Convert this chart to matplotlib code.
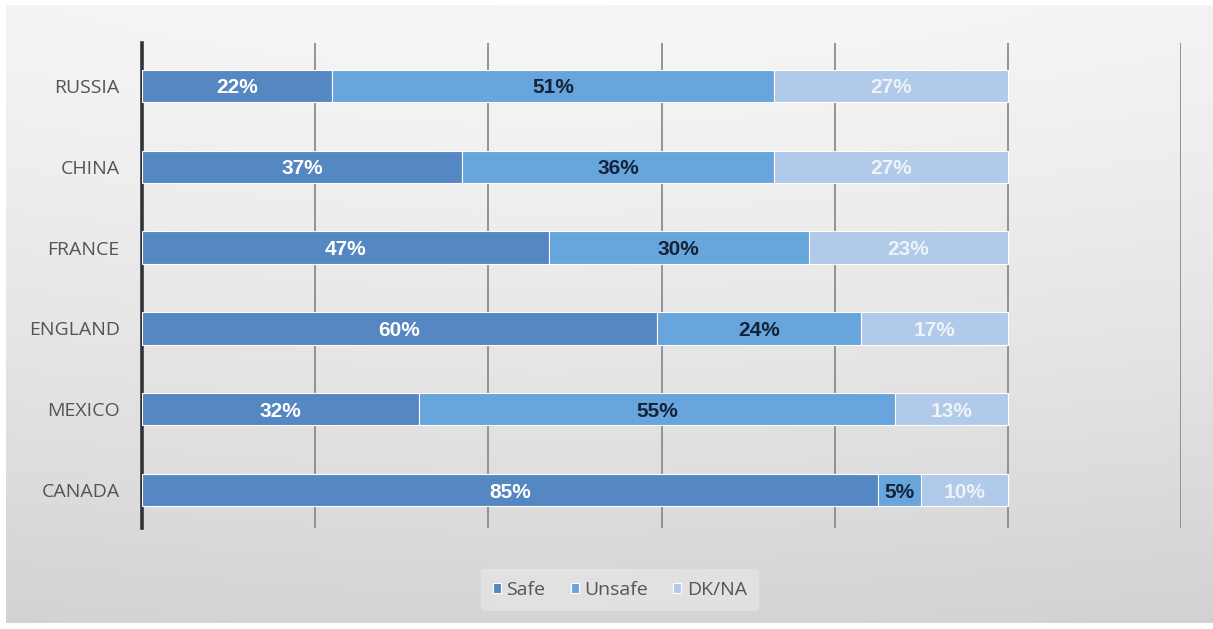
import numpy as np
import matplotlib
matplotlib.use("Agg")
import matplotlib.pyplot as plt

countries = ["CANADA", "MEXICO", "ENGLAND", "FRANCE", "CHINA", "RUSSIA"]
# shares in percent (England is not a whole-number split)
safe = [85, 32, 59.5, 47, 37, 22]
unsafe = [5, 55, 23.5, 30, 36, 51]
dkna = [10, 13, 17, 23, 27, 27]
ticks = [0, 0.2, 0.4, 0.6, 0.8, 1.0, 1.2]

c_safe = "#5587c2"
c_unsafe = "#68a5dc"
c_dk = "#b1cae9"

fig = plt.figure(figsize=(12.13, 6.29), dpi=100)
fig.patch.set_facecolor("white")

# soft grey panel behind the chart
bg = fig.add_axes([6 / 1213, 6 / 629, 1 - 6 / 1213, 1 - 11 / 629])
yy, xx = np.mgrid[0:1:300j, 0:1:600j]
shade = 0.965 - 0.13 * yy ** 1.3 - 0.03 * np.abs(xx - 0.45) ** 1.5
bg.imshow(np.dstack([shade] * 3), aspect="auto", extent=[0, 1, 0, 1],
          interpolation="bilinear")
bg.set_axis_off()

ax = fig.add_axes([142 / 1213, 1 - 528 / 629, (1181 - 142) / 1213, (528 - 43) / 629])
ax.patch.set_alpha(0)

y = np.arange(len(countries))
s = np.array(safe) / 100
u = np.array(unsafe) / 100
d = np.array(dkna) / 100
h = 0.4
b1 = ax.barh(y, s, height=h, color=c_safe, edgecolor="white", linewidth=0.8, zorder=3, label="Safe")
b2 = ax.barh(y, u, left=s, height=h, color=c_unsafe, edgecolor="white", linewidth=0.8, zorder=3, label="Unsafe")
b3 = ax.barh(y, d, left=s + u, height=h, color=c_dk, edgecolor="white", linewidth=0.8, zorder=3, label="DK/NA")

lab = dict(ha="center", va="center_baseline", fontsize=15, fontweight="bold",
           family="Liberation Sans", zorder=4)
for i in range(len(countries)):
    ax.text(s[i] / 2, y[i], f"{round(safe[i])}%", color="white", **lab)
    ax.text(s[i] + u[i] / 2, y[i], f"{round(unsafe[i])}%", color="#13243a", **lab)
    ax.text(s[i] + u[i] + d[i] / 2, y[i], f"{round(dkna[i])}%", color="#eef3fa", **lab)

ax.set_xlim(0, 1.2)
ax.set_ylim(-0.47, 5.53)
ax.set_xticks(ticks)
ax.set_xticklabels([])
ax.tick_params(axis="x", length=0)
ax.tick_params(axis="y", length=0, pad=16)
ax.set_yticks(y)
ax.set_yticklabels(countries, fontsize=14, color="#555555", family="Open Sans")
for t in ticks[1:]:
    ax.axvline(t, color="#8c8c8c", linewidth=1.3, zorder=1)
for sp in ["top", "right", "bottom"]:
    ax.spines[sp].set_visible(False)
ax.spines["left"].set_color("#333333")
ax.spines["left"].set_linewidth(2.6)

leg = fig.legend(handles=[b1, b2, b3], loc="center", bbox_to_anchor=(620 / 1213, 1 - 590 / 629),
                 ncol=3, frameon=True, fontsize=14, handlelength=0.4, handleheight=0.4,
                 handletextpad=0.3, columnspacing=1.3, borderpad=0.6)
leg.get_frame().set_facecolor("#ececec")
leg.get_frame().set_edgecolor("none")
leg.get_frame().set_alpha(0.5)
for txt in leg.get_texts():
    txt.set_color("#555555")
    txt.set_family("Open Sans")

fig.savefig("out.png", dpi=100)
